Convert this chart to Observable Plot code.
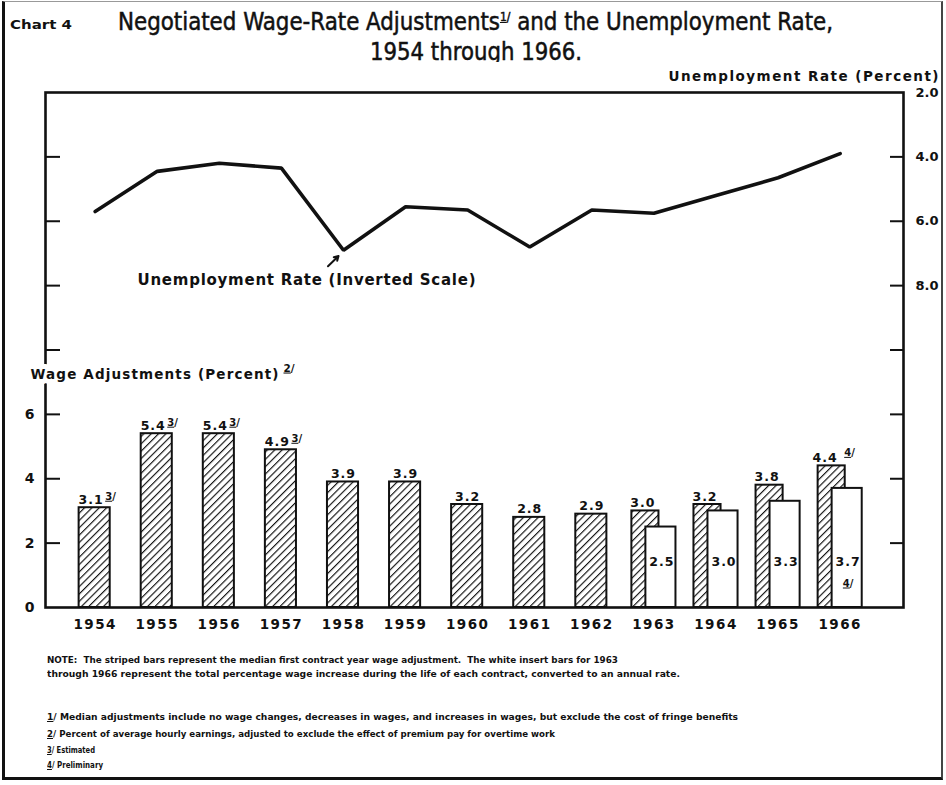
<!DOCTYPE html>
<html><head><meta charset="utf-8">
<script src="https://cdn.jsdelivr.net/npm/d3@7"></script>
<script src="https://cdn.jsdelivr.net/npm/@observablehq/plot@0.6"></script>
<style>
html,body{margin:0;padding:0;background:#fff;}
body{width:946px;height:785px;position:relative;overflow:hidden;color:#111;font-family:"Liberation Sans Narrow","DejaVu Sans Condensed","DejaVu Sans",sans-serif;}
.abs{position:absolute;white-space:nowrap;line-height:1;}
.fit{display:inline-block;transform-origin:0 0;white-space:nowrap;}
#pageframe{position:absolute;z-index:10;left:2px;top:1px;width:936px;height:775px;border-left:3px solid #111;border-bottom:3px solid #111;border-right:2px solid #444;border-top:1px solid #999;pointer-events:none;}
.title{font-size:25px;-webkit-text-stroke:0.5px #111;}
.chartno{font-size:12px;font-weight:bold;}
.note{font-size:9.5px;font-weight:bold;}
sup{font-size:0.5em;vertical-align:0.7em;}
#chart{position:absolute;left:0;top:62px;}
</style></head>
<body>
<div id="pageframe"></div>
<div class="abs chartno" style="left:10px;top:19px;"><span class="fit" data-w="62">Chart 4</span></div>
<div class="abs title" style="left:118px;top:9px;"><span class="fit" data-w="715">Negotiated Wage-Rate Adjustments<sup><u>1</u>/</sup> and the Unemployment Rate,</span></div>
<div class="abs title" style="left:370px;top:39px;"><span class="fit" data-w="212">1954 through 1966.</span></div>
<div id="chart"></div>
<div class="abs note" style="left:47px;top:655px;"><span class="fit" data-w="571">NOTE:&nbsp; The striped bars represent the median first contract year wage adjustment.&nbsp; The white insert bars for 1963</span></div>
<div class="abs note" style="left:47px;top:669px;"><span class="fit" data-w="633">through 1966 represent the total percentage wage increase during the life of each contract, converted to an annual rate.</span></div>
<div class="abs note" style="left:47px;top:712px;"><span class="fit" data-w="691"><u>1</u>/ Median adjustments include no wage changes, decreases in wages, and increases in wages, but exclude the cost of fringe benefits</span></div>
<div class="abs note" style="left:47px;top:729px;"><span class="fit" data-w="508"><u>2</u>/ Percent of average hourly earnings, adjusted to exclude the effect of premium pay for overtime work</span></div>
<div class="abs note" style="left:47px;top:745px;"><span class="fit" data-w="48"><u>3</u>/ Estimated</span></div>
<div class="abs note" style="left:47px;top:760px;"><span class="fit" data-w="56"><u>4</u>/ Preliminary</span></div>
<script>
// ---- data ----
const years = [1954,1955,1956,1957,1958,1959,1960,1961,1962,1963,1964,1965,1966];
const medianAdjustment = [3.1,5.4,5.4,4.9,3.9,3.9,3.2,2.8,2.9,3.0,3.2,3.8,4.4];
const lifeOfContract = [null,null,null,null,null,null,null,null,null,2.5,3.0,3.3,3.7];
const unemploymentRate = [5.7,4.45,4.2,4.35,6.9,5.55,5.65,6.8,5.65,5.75,5.2,4.65,3.9];
const medianNotes = ["3/","3/","3/","3/",null,null,null,null,null,null,null,null,"4/"];
const contractNotes = [null,null,null,null,null,null,null,null,null,null,null,null,"4/"];
const wageTicks = [0,2,4,6];
const unemploymentTicks = [2,4,6,8];
const gridTicks = [2,4,6,8,10,12,14];
const annotatedYear = 1958;
const lineLabel = "Unemployment Rate (Inverted Scale)";
const rightTitle = "Unemployment Rate (Percent)";
const leftTitle = "Wage Adjustments (Percent)";
const leftTitleNote = "2/";

// fit HTML text widths
document.querySelectorAll("[data-w]").forEach(el => {
  const w = el.getBoundingClientRect().width;
  el.style.transform = `scaleX(${(+el.dataset.w)/w})`;
});

const ink = "#111";
// inverted unemployment scale shares the pixel grid: top (16) = 2.0%
const inv = u => 18 - u;
const rows = years.map((year, i) => ({
  year, median: medianAdjustment[i], contract: lifeOfContract[i],
  unemp: unemploymentRate[i], mNote: medianNotes[i], cNote: contractNotes[i]
}));
const single = rows.filter(d => d.contract == null);
const paired = rows.filter(d => d.contract != null);
const annotated = rows.filter(d => d.year === annotatedYear);

const W = 946, H = 583, mL = 45, mR = 43;
const frameW = W - mL - mR;
const half = d => d.year - 0.5, halfR = d => d.year + 0.5;
const bold = {fontWeight: "bold", fill: ink};
const leftTitleOpts = {frameAnchor: "bottom-left", dx: -15, dy: -229, textAnchor: "start", fontSize: 13.5, fontWeight: "bold"};

const plot = Plot.plot({
  width: W, height: H,
  marginTop: 30, marginBottom: 38, marginLeft: mL, marginRight: mR,
  x: {domain: [1953.2, 1967.02], axis: null},
  y: {domain: [0, 16], axis: null},
  style: {fontFamily: "DejaVu Sans", color: ink, background: "white", overflow: "visible"},
  marks: [
    Plot.rectY(single, {x1: half, x2: halfR, y: "median", insetLeft: 15, insetRight: 16, fill: "url(#hatch)", stroke: ink, strokeWidth: 2}),
    Plot.rectY(paired, {x1: half, x2: halfR, y: "median", insetLeft: 9, insetRight: 26, fill: "url(#hatch)", stroke: ink, strokeWidth: 2}),
    Plot.rectY(paired, {x1: half, x2: halfR, y: "contract", insetLeft: 23, insetRight: 9, fill: "white", stroke: ink, strokeWidth: 2}),
    Plot.ruleY(gridTicks, {y: d => d, insetRight: frameW - 15, stroke: ink, strokeWidth: 2}),
    Plot.ruleY(gridTicks, {y: d => d, insetLeft: frameW - 13, stroke: ink, strokeWidth: 2}),
    Plot.frame({stroke: ink, strokeWidth: 2.6}),
    Plot.line(rows, {x: "year", y: d => inv(d.unemp), stroke: ink, strokeWidth: 3.6, strokeLinejoin: "miter"}),
    Plot.arrow(annotated, {x1: d => d.year - 0.25, y1: d => inv(d.unemp) - 0.5, x2: d => d.year - 0.08, y2: d => inv(d.unemp) - 0.18, stroke: ink, strokeWidth: 2, headLength: 7}),
    Plot.text(annotated, {x: "year", y: d => inv(d.unemp), text: () => lineLabel, dx: -37, dy: 30, fontSize: 15, ...bold}),
    Plot.text([rightTitle], {frameAnchor: "top-right", dx: 35, dy: -21, textAnchor: "end", fontSize: 13.5, ...bold}),
    // white knock-out behind the left title (breaks the axis line), then the title itself
    Plot.text([leftTitle], {...leftTitleOpts, fill: "white", stroke: "white", strokeWidth: 10}),
    Plot.text([leftTitle], {...leftTitleOpts, fill: ink}),
    Plot.text([leftTitleNote], {frameAnchor: "bottom-left", dx: 238, dy: -236, textAnchor: "start", fontSize: 10.5, ...bold}),
    Plot.axisY(wageTicks, {anchor: "left", tickSize: 0, tickPadding: 11, label: null, fontSize: 14, fontWeight: "bold"}),
    Plot.axisY(unemploymentTicks.map(inv), {anchor: "right", tickSize: 0, tickPadding: 12, label: null, tickFormat: y => (18 - y).toFixed(1), fontSize: 13, fontWeight: "bold"}),
    Plot.axisX(years, {anchor: "bottom", tickSize: 0, tickPadding: 12, label: null, tickFormat: d => String(d), fontSize: 13.5, fontWeight: "bold"}),
    // value labels
    Plot.text(single.filter(d => d.mNote), {x: "year", y: "median", text: d => d.median.toFixed(1), dx: -4, dy: -4, lineAnchor: "bottom", fontSize: 12.5, ...bold}),
    Plot.text(single.filter(d => !d.mNote), {x: "year", y: "median", text: d => d.median.toFixed(1), dy: -4, lineAnchor: "bottom", fontSize: 12.5, ...bold}),
    Plot.text(single.filter(d => d.mNote), {x: "year", y: "median", text: "mNote", dx: 10, dy: -8, textAnchor: "start", lineAnchor: "bottom", fontSize: 10, ...bold}),
    Plot.text(paired.filter(d => !d.mNote), {x: "year", y: "median", text: d => d.median.toFixed(1), dx: -11, dy: -4, lineAnchor: "bottom", fontSize: 12.5, ...bold}),
    Plot.text(paired.filter(d => d.mNote), {x: "year", y: "median", text: d => d.median.toFixed(1), dx: -15, dy: -4, lineAnchor: "bottom", fontSize: 12.5, ...bold}),
    Plot.text(paired.filter(d => d.mNote), {x: "year", y: "median", text: "mNote", dx: 4, dy: -10, textAnchor: "start", lineAnchor: "bottom", fontSize: 10, ...bold}),
    Plot.text(paired, {x: "year", frameAnchor: "bottom", text: d => d.contract.toFixed(1), dx: 8, dy: -42, fontSize: 12.5, ...bold}),
    Plot.text(paired.filter(d => d.cNote), {x: "year", frameAnchor: "bottom", text: "cNote", dx: 8, dy: -21, fontSize: 10, ...bold})
  ]
});

const s = d3.select(plot);
const defs = s.insert("defs", ":first-child");
const pat = defs.append("pattern").attr("id", "hatch").attr("patternUnits", "userSpaceOnUse")
  .attr("width", 5.2).attr("height", 5.2).attr("patternTransform", "rotate(45)");
pat.append("rect").attr("width", 5.2).attr("height", 5.2).attr("fill", "white");
pat.append("line").attr("x1", 0).attr("y1", 0).attr("x2", 0).attr("y2", 5.2).attr("stroke", ink).attr("stroke-width", 2.3);

const lengths = {[lineLabel]: 338, [rightTitle]: 270, [leftTitle]: 248};
s.selectAll("text").each(function() {
  const t = this.textContent;
  const el = d3.select(this);
  if (lengths[t]) {
    el.attr("textLength", lengths[t]).attr("lengthAdjust", "spacing");
  } else if (/^\d\/$/.test(t)) {
    this.textContent = "";
    el.append("tspan").style("text-decoration", "underline").text(t[0]);
    el.append("tspan").text("/");
  } else if (/^\d\.\d$/.test(t) && this.parentNode.getAttribute("aria-label") === "text") {
    el.style("letter-spacing", "1px");
  } else if (/^19\d\d$/.test(t)) {
    el.style("letter-spacing", "1.5px");
  }
});
document.getElementById("chart").appendChild(plot);
</script>
</body></html>
